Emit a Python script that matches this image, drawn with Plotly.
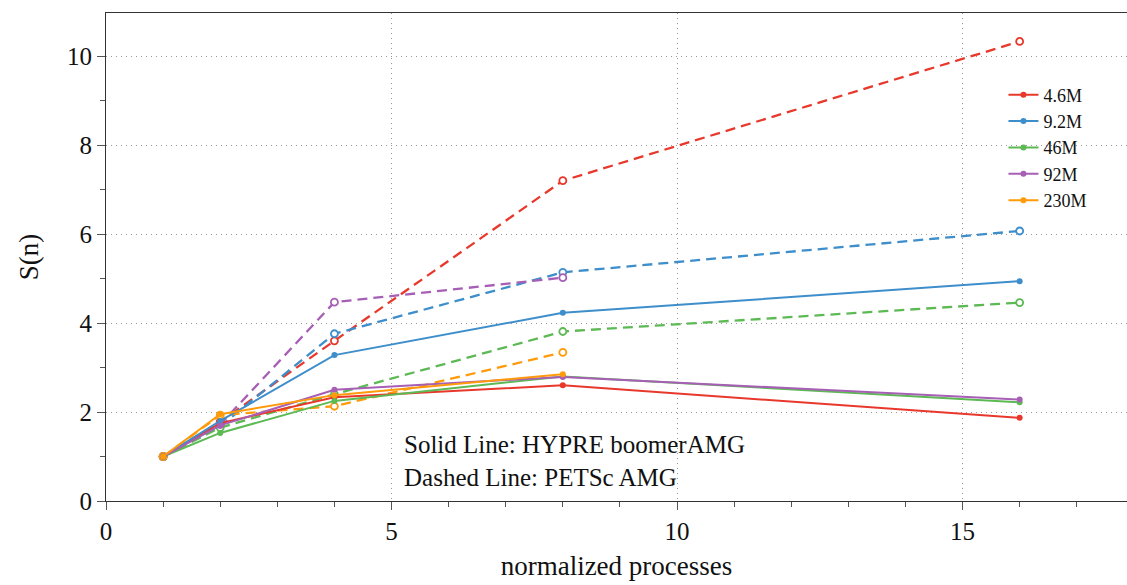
import plotly.graph_objects as go

procs = [1, 2, 4, 8, 16]
names = ["4.6M", "9.2M", "46M", "92M", "230M"]
colors = ["#e8382c", "#3d8ecb", "#5cb953", "#a75fb6", "#ff9a0a"]

hypre = {
    "4.6M": [1.0, 1.75, 2.33, 2.6, 1.87],
    "9.2M": [1.0, 1.8, 3.28, 4.23, 4.94],
    "46M": [1.0, 1.53, 2.25, 2.8, 2.22],
    "92M": [1.0, 1.7, 2.5, 2.79, 2.28],
    "230M": [1.0, 1.95, 2.38, 2.85, None],
}
petsc = {
    "4.6M": [1.0, 1.78, 3.6, 7.2, 10.33],
    "9.2M": [1.0, 1.68, 3.76, 5.14, 6.07],
    "46M": [1.0, 1.65, 2.4, 3.81, 4.46],
    "92M": [1.0, 1.72, 4.47, 5.02, None],
    "230M": [1.0, 1.93, 2.13, 3.34, None],
}

fig = go.Figure()
for n, c in zip(names, colors):
    xs = [x for x, y in zip(procs, petsc[n]) if y is not None]
    ys = [y for y in petsc[n] if y is not None]
    fig.add_trace(go.Scatter(x=xs, y=ys, mode="lines+markers", showlegend=False,
                             line=dict(color=c, width=2.3, dash="10px,6px"),
                             marker=dict(symbol="circle", size=7, color="white",
                                         line=dict(color=c, width=1.8))))
for n, c in zip(names, colors):
    xs = [x for x, y in zip(procs, hypre[n]) if y is not None]
    ys = [y for y in hypre[n] if y is not None]
    fig.add_trace(go.Scatter(x=xs, y=ys, mode="lines+markers", name=n,
                             line=dict(color=c, width=2),
                             marker=dict(symbol="circle", size=6, color=c)))

font = "Liberation Serif"
fig.add_annotation(x=0.290, y=0.081, xref="paper", yref="paper", xanchor="left", yanchor="middle",
                   align="left", showarrow=False,
                   text="Solid Line: HYPRE boomerAMG<br>Dashed Line: PETSc AMG",
                   font=dict(family=font, size=25, color="#111"))

grid = dict(showgrid=True, gridcolor="#999", griddash="1px,4px", gridwidth=1, zeroline=False)
fig.update_layout(
    width=1127, height=585,
    margin=dict(l=106, r=0, t=13, b=84),
    paper_bgcolor="white", plot_bgcolor="white",
    font=dict(family=font, color="#111"),
    legend=dict(x=0.879, y=0.87, xanchor="left", yanchor="top",
                font=dict(family=font, size=18), bgcolor="rgba(0,0,0,0)",
                tracegroupgap=0, itemwidth=30),
    xaxis=dict(range=[0, 17.88], tickvals=[0, 5, 10, 15], ticks="outside", ticklen=8,
               tickcolor="#555", showline=True, linecolor="#333", linewidth=1.2, mirror=True,
               tickfont=dict(size=25), **grid,
               minor=dict(dtick=1, tick0=0, ticks="outside", ticklen=5, tickcolor="#555", showgrid=False),
               title=dict(text="normalized processes", font=dict(size=27), standoff=12)),
    yaxis=dict(range=[0, 10.97], tickvals=[0, 2, 4, 6, 8, 10], ticks="outside", ticklen=8,
               tickcolor="#555", showline=True, linecolor="#333", linewidth=1.2,
               tickfont=dict(size=25), **grid,
               minor=dict(dtick=1, tick0=0, ticks="outside", ticklen=5, tickcolor="#555", showgrid=False),
               title=dict(text="S(n)", font=dict(size=27), standoff=20)),
)
fig.write_html("out.html")
